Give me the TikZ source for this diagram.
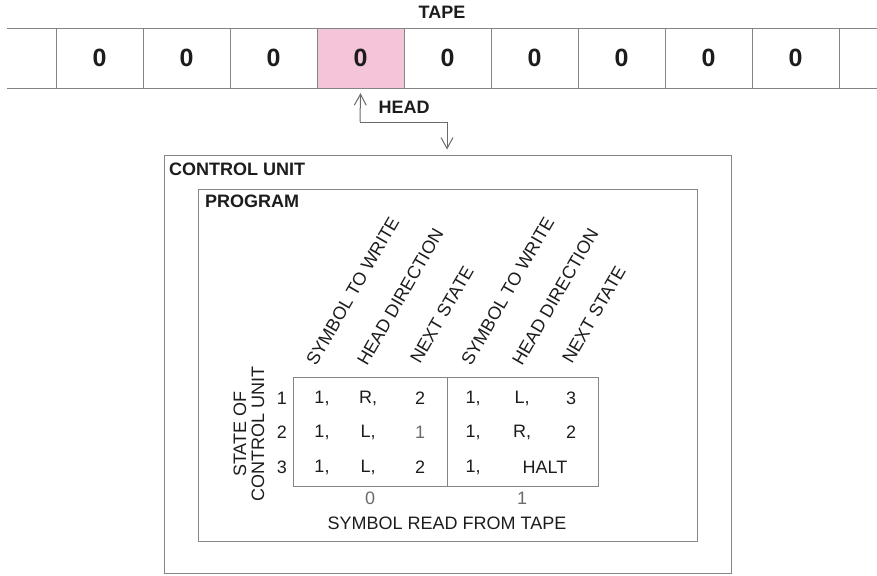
\documentclass[tikz,border=0pt]{standalone}
\usepackage{fontspec}
\setmainfont{Liberation Sans}
\usetikzlibrary{arrows.meta}
\definecolor{ln}{HTML}{858585}
\definecolor{txt}{HTML}{1C1C1C}
\definecolor{pinkc}{HTML}{F4C4D8}
\definecolor{soft}{HTML}{6A6A6A}
\begin{document}
\begin{tikzpicture}[x=1pt,y=-1pt,
  tapeline/.style={draw=ln, line width=0.9pt},
  cellnode/.style={minimum width=87pt, minimum height=60pt, inner sep=0pt, text=txt,
    font=\fontsize{25}{27}\selectfont\bfseries},
  boldlabel/.style={text=txt, inner sep=0pt, font=\fontsize{18}{20}\selectfont\bfseries},
  plain/.style={text=txt, inner sep=0pt, font=\fontsize{18}{20}\selectfont},
  header/.style={plain, anchor=base west, rotate=60},
  boxline/.style={draw=ln, line width=0.9pt, inner sep=0pt},
  headarrow/.style={draw=ln!80!black, line width=1pt, -{Straight Barb[length=11pt,width=12pt]}}
]
\useasboundingbox (0,0) rectangle (877,575);

% tape
\node[boldlabel] (tape) at (442,12) {TAPE};
\node[cellnode, fill=pinkc] (c4) at (360,58) {};
\foreach \i in {1,...,9} {
  \node[cellnode] (c\i) at ({12.5+87*\i},58) {0};
}
\draw[tapeline] (7,28) -- (877,28);
\draw[tapeline] (7,88) -- (877,88);
\foreach \k in {0,...,9} {
  \draw[draw=ln, line width=0.6pt] ({56+87*\k},28) -- ({56+87*\k},88);
}

% head
\node[boldlabel] (headlbl) at (404,107) {HEAD};
\coordinate (hb) at (360,122);
\coordinate (hc) at (447,122);

% control unit
\node[boxline, draw, minimum width=567pt, minimum height=418pt] (cu) at (447.5,364) {};
\node[boldlabel, anchor=base west] (cul) at (169,175) {CONTROL UNIT};
\node[boxline, draw, minimum width=499pt, minimum height=352pt] (prog) at (447.5,365) {};
\node[boldlabel, anchor=base west] (pl) at (205,207) {PROGRAM};

\draw[headarrow] (hb) -- ([yshift=-5pt]c4.south);
\draw[headarrow] (hb) -- (hc) -- ([yshift=5pt]cu.north -| hc);

% table
\node[boxline, draw, minimum width=154pt, minimum height=109pt] (t0) at (370,431.5) {};
\node[boxline, draw, minimum width=151pt, minimum height=109pt] (t1) at (522.5,431.5) {};

% headers
\node[header] (h1) at (316,367) {SYMBOL TO WRITE};
\node[header] (h2) at (367,367) {HEAD DIRECTION};
\node[header] (h3) at (420,365) {NEXT STATE};
\node[header] (h4) at (471,367) {SYMBOL TO WRITE};
\node[header] (h5) at (522,367) {HEAD DIRECTION};
\node[header] (h6) at (572,365) {NEXT STATE};

% row labels
\node[plain] (r1) at (282,398) {1};
\node[plain] (r2) at (282,432) {2};
\node[plain] (r3) at (282,467) {3};
\node[plain, rotate=90, align=center, font=\fontsize{18}{18}\selectfont] (st) at (249,434) {STATE OF\\CONTROL UNIT};

% data
\node[plain] (a11) at (322,398) {1,};
\node[plain] (a12) at (368,398) {R,};
\node[plain] (a13) at (420,398) {2};
\node[plain] (a21) at (322,432) {1,};
\node[plain] (a22) at (368,432) {L,};
\node[plain, text=soft] (a23) at (420,432) {1};
\node[plain] (a31) at (322,467) {1,};
\node[plain] (a32) at (368,467) {L,};
\node[plain] (a33) at (420,467) {2};
\node[plain] (b11) at (473,398) {1,};
\node[plain] (b12) at (522,398) {L,};
\node[plain] (b13) at (571,398) {3};
\node[plain] (b21) at (473,432) {1,};
\node[plain] (b22) at (522,432) {R,};
\node[plain] (b23) at (571,432) {2};
\node[plain] (b31) at (473,467) {1,};
\node[plain] (b32) at (545,467) {HALT};

% column labels
\node[plain, text=soft] (s0) at (370,498) {0};
\node[plain, text=soft] (s1) at (522,498) {1};
\node[plain] (srt) at (447,523) {SYMBOL READ FROM TAPE};
\end{tikzpicture}
\end{document}
